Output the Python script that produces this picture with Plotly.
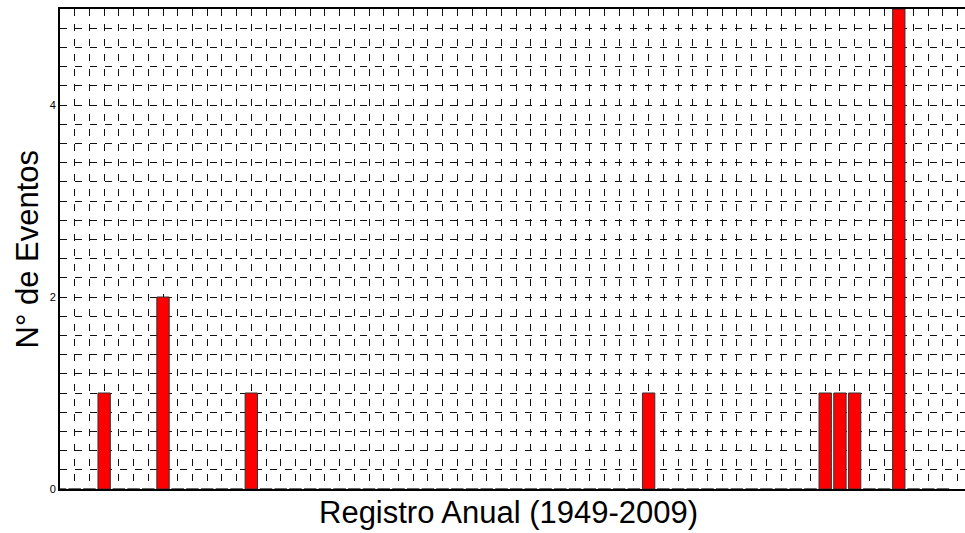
import plotly.graph_objects as go

# annual record 1949-2009, number of events per year
years = list(range(1949, 2010))
event_years = [1952, 1956, 1962, 1989, 2001, 2002, 2003, 2006]
event_counts = [1, 2, 1, 1, 1, 1, 1, 5]
counts = [event_counts[event_years.index(y)] if y in event_years else 0 for y in years]

y_ticks = [0, 2, 4]
x_title = "Registro Anual (1949-2009)"
y_title = "N° de Eventos"

font = "Liberation Sans, Arial, sans-serif"
grid_col = "#111111"
dash = "7px,8px"

fig = go.Figure()
fig.add_trace(go.Bar(
    x=years, y=counts, width=0.84,
    marker=dict(color="#ff0000", line=dict(color="#333333", width=1)),
))

fig.update_layout(
    width=965, height=533,
    margin=dict(l=60, r=0, t=9, b=44),
    plot_bgcolor="white", paper_bgcolor="white",
    showlegend=False,
    font=dict(family=font, color="black"),
)
fig.update_xaxes(
    range=[1949, 2010.5], dtick=1, tick0=1949,
    showticklabels=False, ticks="",
    showgrid=True, gridcolor=grid_col, gridwidth=1, griddash=dash,
    showline=True, linecolor="black", linewidth=2, mirror=True,
    zeroline=False,
)
fig.update_yaxes(
    range=[0, 5], tickvals=y_ticks, ticktext=[str(v) for v in y_ticks],
    tickfont=dict(size=11, color="black"), ticks="",
    showgrid=True, gridcolor=grid_col, gridwidth=1, griddash=dash,
    minor=dict(dtick=0.2, tick0=0, showgrid=True, gridcolor=grid_col,
               gridwidth=1, griddash=dash),
    showline=True, linecolor="black", linewidth=2, mirror=False,
    zeroline=False,
)

fig.add_annotation(
    text=x_title, xref="paper", yref="paper", x=0.496, y=-0.048,
    xanchor="center", yanchor="middle", showarrow=False,
    font=dict(size=31, family=font, color="black"),
)
fig.add_annotation(
    text=y_title, xref="paper", yref="paper", x=-0.036, y=0.5,
    xanchor="center", yanchor="middle", textangle=-90, showarrow=False,
    font=dict(size=31, family=font, color="black"),
)

# drop the page's default body margin so the figure sits at the window corner
fig.write_html("out.html", config={"displayModeBar": False},
               post_script="document.body.style.margin='0';")
